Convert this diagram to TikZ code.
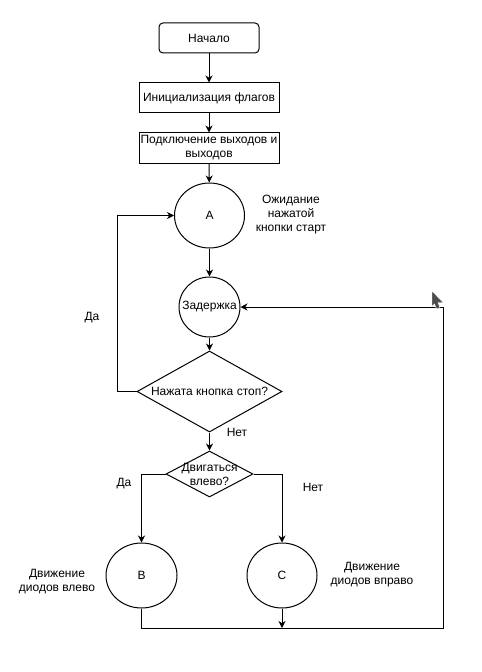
\documentclass[tikz,border=0pt]{standalone}
\usepackage{fontspec}
\setmainfont{Liberation Sans}
\usetikzlibrary{arrows.meta,shapes.geometric}
\begin{document}
\begin{tikzpicture}[x=1bp,y=-1bp,
  every node/.style={font=\fontsize{12bp}{14bp}\selectfont, align=center, inner sep=0pt},
  line/.style={draw=black, line width=1bp},
  arr/.style={line, -{Stealth[length=7bp,width=7bp,inset=2.2bp]}},
  procbox/.style={draw, line width=1bp, rectangle, minimum width=140bp, minimum height=30bp},
  termbox/.style={draw, line width=1bp, rectangle, rounded corners=4bp, minimum width=100bp, minimum height=30bp},
  state/.style={draw, line width=1bp, ellipse},
  decision/.style={draw, line width=1bp, diamond},
  note/.style={}
]
\useasboundingbox (0,0) rectangle (482,672);
\fill[white] (0,0) rectangle (482,672);

% process steps
\node[termbox] (start) at (209,38) {Начало};
\node[procbox] (init) at (209,98) {Инициализация флагов};
\node[procbox] (conn) at (209,148) {Подключение выходов и\\выходов};

% states
\node[state, minimum width=70bp, minimum height=65bp] (A) at (209.5,215.5) {A};
\node[note] (waitlbl) at (291,215) {Ожидание\\нажатой\\кнопки старт};
\node[state, minimum width=61bp, minimum height=60bp] (zad) at (209.5,307) {};
\node (zadtext) at (zad) {Задержка};

% decisions
\node[decision, minimum width=145bp, minimum height=81bp] (d1) at (209.5,391.5) {};
\node (d1text) at (d1) {Нажата кнопка стоп?};
\node[decision, minimum width=87bp, minimum height=46bp] (d2) at (209.5,474) {};
\node (d2text) at (d2) {Двигаться\\влево?};

% movement states
\node[state, minimum width=71bp, minimum height=65bp] (B) at (141.5,575.5) {B};
\node[state, minimum width=70bp, minimum height=65bp] (C) at (282,575.5) {C};
\node[note] (leftlbl) at (57,582) {Движение\\диодов влево};
\node[note] (rightlbl) at (372,575) {Движение\\диодов вправо};

% branch labels
\node (yes1) at (92,318) {Да};
\node (no1) at (237,432) {Нет};
\node (yes2) at (124,484) {Да};
\node (no2) at (313,487) {Нет};

% main flow
\draw[arr] (start) -- (init);
\draw[arr] (init) -- (conn);
\draw[arr] (conn) -- (A);
\draw[arr] (A) -- (zad);
\draw[arr] (zad) -- (d1);
\draw[arr] (d1) -- (d2);

% stop loop back to A
\coordinate (loopL) at (117.5,391.5);
\draw[arr] (d1.west) -- (loopL) |- (A.west);

% left / right branches
\draw[arr] (d2.west) -| (B.north);
\draw[arr] (d2.east) -| (C.north);

% return to delay
\coordinate (merge) at (282,628);
\coordinate (corner) at (443,628);
\draw[arr] (C.south) -- (merge);
\draw[line] (B.south) |- (merge);
\draw[arr] (merge) -- (corner) |- (zad.east);

% pointer
\fill[black!70, draw=white, line width=0.4bp]
  (432,291) -- (443,302.5) -- (438,302.5) -- (440,308) -- (436.5,309) -- (434.5,304) -- (432,306.5) -- cycle;
\end{tikzpicture}
\end{document}
